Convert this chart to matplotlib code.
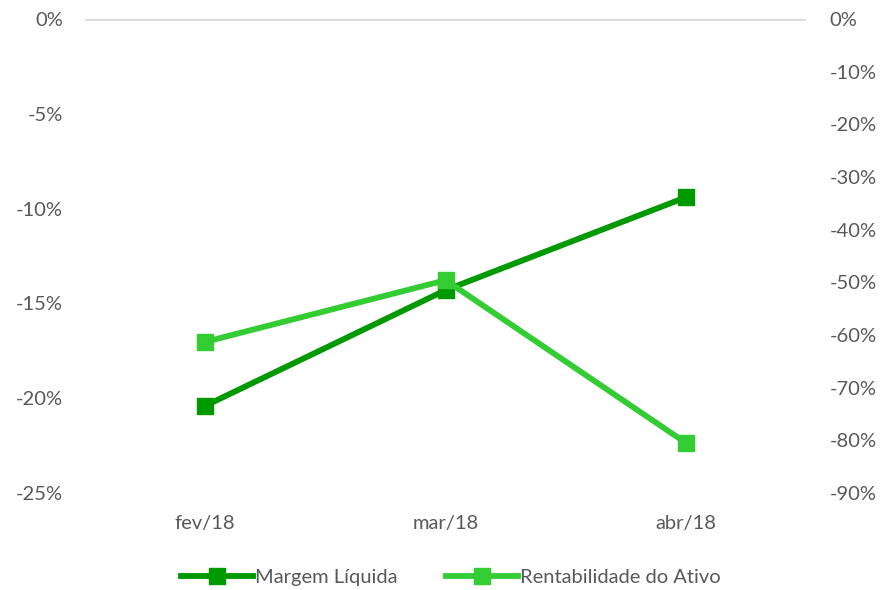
import matplotlib.pyplot as plt
from matplotlib.ticker import FuncFormatter

# Dados
meses = ['fev/18', 'mar/18', 'abr/18']
margem_liquida = [-20.4, -14.3, -9.4]          # eixo esquerdo (%)
rentabilidade_ativo = [-61.3, -49.6, -80.5]    # eixo direito (%)

left_ticks = [0, -5, -10, -15, -20, -25]
right_ticks = [0, -10, -20, -30, -40, -50, -60, -70, -80, -90]

plt.rcParams['font.family'] = ['Lato', 'DejaVu Sans']
text_color = '#595959'
dark_green = '#009900'
light_green = '#33CC33'

fig = plt.figure(figsize=(8.84, 5.9), dpi=100)
ax = fig.add_axes([0.0962, 0.1644, 0.8158, 0.8034])
ax2 = ax.twinx()

x = range(len(meses))
l1, = ax.plot(x, margem_liquida, color=dark_green, lw=4.2, marker='s', ms=11,
              label='Margem Líquida', zorder=3)
l2, = ax2.plot(x, rentabilidade_ativo, color=light_green, lw=4.2, marker='s', ms=11,
               label='Rentabilidade do Ativo', zorder=3)

ax.set_xlim(-0.5, 2.5)
ax.set_ylim(-25, 0)
ax2.set_ylim(-90, 0)
ax.set_yticks(left_ticks)
ax2.set_yticks(right_ticks)
pct = FuncFormatter(lambda v, p: f'{v:.0f}%')
ax.yaxis.set_major_formatter(pct)
ax2.yaxis.set_major_formatter(pct)
ax.set_xticks(list(x))
ax.set_xticklabels(meses)

for a in (ax, ax2):
    for s in a.spines.values():
        s.set_visible(False)
    a.tick_params(length=0, colors=text_color, labelsize=14.5)
ax.tick_params(axis='y', pad=16)
ax2.tick_params(axis='y', pad=17)
ax.tick_params(axis='x', pad=16)

ax.axhline(0, color='#d9d9d9', lw=1.8, zorder=1)

fig.legend(handles=[l1, l2], loc='center', bbox_to_anchor=(0.51, 0.022),
           ncol=2, frameon=False, fontsize=14.5, labelcolor=text_color,
           handlelength=3.6, handletextpad=0.1, columnspacing=2.4)

fig.savefig('out.png', dpi=100)
